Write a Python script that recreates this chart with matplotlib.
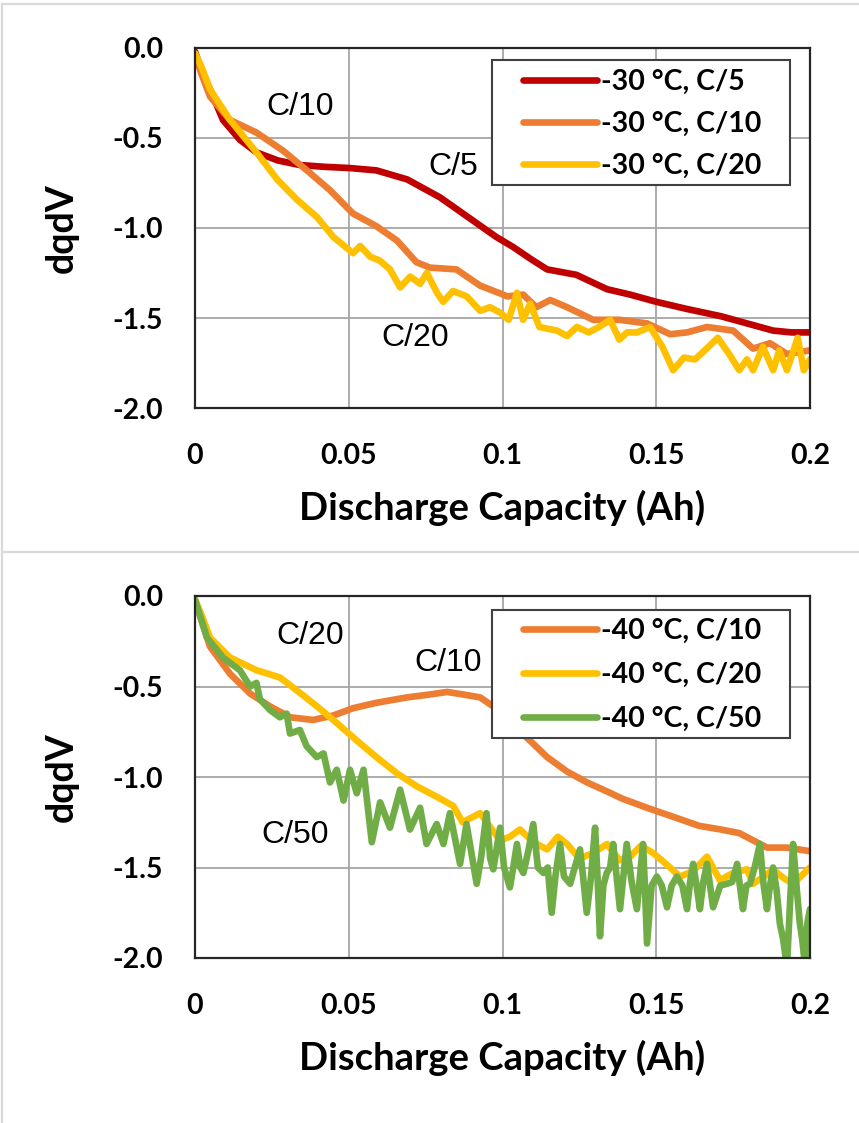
import matplotlib
matplotlib.use("Agg")
import matplotlib.pyplot as plt
from matplotlib.lines import Line2D
from matplotlib.patches import Rectangle

# -30 C panel
x30_c5 = [0, 0.002, 0.0049, 0.0091, 0.0146, 0.020, 0.027, 0.034, 0.042, 0.0504, 0.059, 0.069, 0.0797, 0.0905,
          0.098, 0.1034, 0.109, 0.1145, 0.124, 0.129, 0.134, 0.1415, 0.150, 0.160, 0.171, 0.1795, 0.188, 0.194, 0.2]
y30_c5 = [-0.02, -0.12, -0.23, -0.40, -0.51, -0.58, -0.625, -0.65, -0.66, -0.667, -0.68, -0.73, -0.83, -0.96,
          -1.05, -1.105, -1.17, -1.23, -1.26, -1.30, -1.34, -1.37, -1.41, -1.45, -1.49, -1.53, -1.57, -1.58, -1.58]

x30_c10 = [0, 0.002, 0.0049, 0.0114, 0.020, 0.0286, 0.0364, 0.0439, 0.0514, 0.059, 0.0657, 0.072, 0.0764, 0.085,
           0.0927, 0.1002, 0.1015, 0.1067, 0.111, 0.1155, 0.121, 0.1295, 0.138, 0.147, 0.1545, 0.160, 0.1665,
           0.175, 0.1815, 0.187, 0.1925, 0.2]
y30_c10 = [-0.03, -0.14, -0.27, -0.40, -0.47, -0.57, -0.68, -0.79, -0.92, -0.99, -1.07, -1.19, -1.22, -1.23,
           -1.32, -1.37, -1.38, -1.37, -1.44, -1.40, -1.44, -1.51, -1.51, -1.53, -1.59, -1.58, -1.55,
           -1.57, -1.67, -1.64, -1.70, -1.68]

x30_c20 = [0, 0.002, 0.0049, 0.0114, 0.020, 0.0267, 0.033, 0.0397, 0.045, 0.0514, 0.0537, 0.057, 0.060, 0.0634,
           0.0667, 0.070, 0.0732, 0.0754, 0.0787, 0.0807, 0.0839, 0.0884, 0.0927, 0.0959, 0.0992, 0.102, 0.1047,
           0.1067, 0.109, 0.112, 0.1177, 0.121, 0.1242, 0.128, 0.1314, 0.135, 0.138, 0.1405, 0.1437, 0.148,
           0.152, 0.1555, 0.159, 0.1626, 0.167, 0.170, 0.1737, 0.177, 0.1795, 0.1815, 0.1847, 0.188, 0.190,
           0.1925, 0.196, 0.198, 0.2]
y30_c20 = [-0.03, -0.10, -0.23, -0.40, -0.58, -0.73, -0.84, -0.94, -1.05, -1.14, -1.10, -1.16, -1.18, -1.23,
           -1.33, -1.27, -1.31, -1.25, -1.36, -1.41, -1.35, -1.38, -1.46, -1.44, -1.47, -1.51, -1.36,
           -1.51, -1.42, -1.55, -1.57, -1.60, -1.55, -1.58, -1.55, -1.51, -1.62, -1.58, -1.58, -1.55,
           -1.66, -1.79, -1.72, -1.73, -1.66, -1.61, -1.70, -1.79, -1.73, -1.79, -1.66, -1.79, -1.68,
           -1.79, -1.61, -1.79, -1.73]

# -40 C panel
x40_c10 = [0, 0.002, 0.0049, 0.0114, 0.018, 0.0244, 0.031, 0.0384, 0.045, 0.0514, 0.059, 0.069, 0.076, 0.082,
           0.0875, 0.0927, 0.097, 0.1015, 0.109, 0.1145, 0.121, 0.1275, 0.134, 0.139, 0.147, 0.1555, 0.164,
           0.171, 0.177, 0.186, 0.1925, 0.2]
y40_c10 = [-0.02, -0.13, -0.28, -0.43, -0.54, -0.61, -0.67, -0.685, -0.66, -0.62, -0.59, -0.56, -0.545, -0.53,
           -0.545, -0.56, -0.61, -0.685, -0.80, -0.89, -0.97, -1.03, -1.08, -1.12, -1.17, -1.22, -1.27,
           -1.29, -1.31, -1.39, -1.39, -1.41]

x40_c20 = [0, 0.002, 0.0049, 0.0114, 0.020, 0.0276, 0.033, 0.0397, 0.046, 0.0527, 0.059, 0.0657, 0.072, 0.0787,
           0.084, 0.087, 0.0927, 0.0992, 0.1024, 0.1057, 0.110, 0.1145, 0.118, 0.121, 0.125, 0.1295, 0.134,
           0.138, 0.1415, 0.145, 0.149, 0.1545, 0.1577, 0.162, 0.1665, 0.1707, 0.175, 0.1795, 0.1815, 0.185,
           0.188, 0.1915, 0.1945, 0.2]
y40_c20 = [-0.02, -0.10, -0.23, -0.34, -0.41, -0.45, -0.52, -0.61, -0.70, -0.80, -0.89, -0.98, -1.05, -1.11,
           -1.16, -1.25, -1.20, -1.35, -1.33, -1.29, -1.36, -1.40, -1.33, -1.37, -1.45, -1.42, -1.37,
           -1.46, -1.44, -1.38, -1.42, -1.50, -1.55, -1.52, -1.44, -1.57, -1.53, -1.51, -1.59, -1.55,
           -1.51, -1.56, -1.59, -1.50]

x40_c50 = [0, 0.0039, 0.0091, 0.0146, 0.0179, 0.0200, 0.0211, 0.0244, 0.0276, 0.0298,
           0.0309, 0.0341, 0.0363, 0.0396, 0.0418, 0.0439, 0.0461, 0.0483, 0.0504, 0.0526,
           0.0548, 0.0575, 0.0602, 0.0634, 0.0667, 0.0699, 0.0732, 0.0753, 0.0786, 0.0808,
           0.0829, 0.0862, 0.0883, 0.0916, 0.0930, 0.0948, 0.0960, 0.0970, 0.0992, 0.1005,
           0.1024, 0.1035, 0.1047, 0.1058, 0.1068, 0.1085, 0.1100, 0.1115, 0.1133, 0.1147,
           0.1160, 0.1172, 0.1187, 0.1200, 0.1220, 0.1235, 0.1252, 0.1262, 0.1274, 0.1288,
           0.1301, 0.1309, 0.1317, 0.1328, 0.1339, 0.1350, 0.1360, 0.1371, 0.1382, 0.1393,
           0.1404, 0.1420, 0.1437, 0.1447, 0.1457, 0.1463, 0.1470, 0.1485, 0.1502, 0.1518,
           0.1535, 0.1550, 0.1567, 0.1585, 0.1600, 0.1610, 0.1620, 0.1631, 0.1642, 0.1653,
           0.1665, 0.1675, 0.1685, 0.1708, 0.1730, 0.1747, 0.1763, 0.1772, 0.1782, 0.1793,
           0.1805, 0.1820, 0.1837, 0.1848, 0.1860, 0.1870, 0.1880, 0.1891, 0.1902, 0.1913,
           0.1925, 0.1935, 0.1945, 0.1956, 0.1967, 0.1975, 0.1984, 0.1992, 0.2]
y40_c50 = [-0.02, -0.23, -0.34, -0.41, -0.50, -0.48, -0.57, -0.63, -0.67, -0.65,
           -0.76, -0.74, -0.83, -0.89, -0.87, -1.03, -0.96, -1.13, -0.96, -1.09,
           -0.96, -1.36, -1.14, -1.28, -1.07, -1.29, -1.17, -1.37, -1.26, -1.37,
           -1.20, -1.48, -1.26, -1.59, -1.45, -1.20, -1.45, -1.51, -1.28, -1.50,
           -1.61, -1.50, -1.37, -1.50, -1.53, -1.40, -1.26, -1.50, -1.53, -1.50,
           -1.75, -1.55, -1.37, -1.55, -1.59, -1.50, -1.40, -1.55, -1.75, -1.55,
           -1.28, -1.55, -1.88, -1.60, -1.53, -1.50, -1.37, -1.55, -1.73, -1.55,
           -1.37, -1.58, -1.73, -1.55, -1.37, -1.60, -1.92, -1.60, -1.55, -1.60,
           -1.72, -1.60, -1.55, -1.60, -1.73, -1.58, -1.48, -1.60, -1.73, -1.58,
           -1.48, -1.60, -1.72, -1.60, -1.59, -1.58, -1.48, -1.60, -1.73, -1.60,
           -1.59, -1.50, -1.37, -1.58, -1.73, -1.60, -1.50, -1.62, -1.81, -1.90,
           -2.05, -1.70, -1.37, -1.60, -1.81, -1.90, -2.05, -1.80, -1.73]

x_ticks = [0, 0.05, 0.1, 0.15, 0.2]
x_ticklabels = ['0', '0.05', '0.1', '0.15', '0.2']
y_ticks = [0.0, -0.5, -1.0, -1.5, -2.0]
y_ticklabels = ['0.0', '-0.5', '-1.0', '-1.5', '-2.0']

RED = '#C00000'
ORANGE = '#ED7D31'
YELLOW = '#FFC000'
GREEN = '#70AD47'

BOLD = ['Lato', 'DejaVu Sans']
PLAIN = ['Liberation Sans', 'DejaVu Sans']

fig = plt.figure(figsize=(8.59, 11.23), dpi=100)

# light gray chart frames
for y in [1 - 4 / 1123, 1 - 552 / 1123]:
    fig.add_artist(Line2D([2 / 859, 1], [y, y], color='#d9d9d9', lw=1.6, transform=fig.transFigure))
fig.add_artist(Line2D([2 / 859, 2 / 859], [0, 1 - 4 / 1123], color='#d9d9d9', lw=1.6, transform=fig.transFigure))


def setup(ax):
    ax.set_xlim(0, 0.2)
    ax.set_ylim(-2.0, 0.0)
    ax.set_xticks(x_ticks)
    ax.set_xticklabels(x_ticklabels)
    ax.set_yticks(y_ticks)
    ax.set_yticklabels(y_ticklabels)
    ax.grid(True, color='#a6a6a6', lw=1.3)
    ax.set_axisbelow(True)
    for s in ax.spines.values():
        s.set_color('#262626')
        s.set_linewidth(1.6)
    ax.tick_params(length=0, pad=23)
    ax.tick_params(axis='x', pad=25)
    for lab in ax.get_xticklabels() + ax.get_yticklabels():
        lab.set_fontfamily(BOLD)
        lab.set_fontweight('bold')
        lab.set_fontsize(20.5)
    ax.set_xlabel('Discharge Capacity (Ah)', family=BOLD, fontweight='bold', fontsize=27.5, labelpad=15)
    ax.set_ylabel('dqdV', family=BOLD, fontweight='bold', fontsize=27, labelpad=24)


lw = 4.8

ax1 = fig.add_axes([195 / 859, 1 - 408 / 1123, 615 / 859, 360 / 1123])
setup(ax1)
ax1.plot(x30_c5, y30_c5, color=RED, lw=lw, label='-30 °C, C/5', solid_capstyle='round')
ax1.plot(x30_c10, y30_c10, color=ORANGE, lw=lw, label='-30 °C, C/10', solid_capstyle='round')
ax1.plot(x30_c20, y30_c20, color=YELLOW, lw=lw, label='-30 °C, C/20', solid_capstyle='round')
ax1.text(0.0341, -0.33, 'C/10', family=PLAIN, fontsize=23, ha='center', va='center')
ax1.text(0.0839, -0.66, 'C/5', family=PLAIN, fontsize=23, ha='center', va='center')
ax1.text(0.0715, -1.61, 'C/20', family=PLAIN, fontsize=23, ha='center', va='center')

ax2 = fig.add_axes([195 / 859, 1 - 958 / 1123, 615 / 859, 362 / 1123])
setup(ax2)
ax2.plot(x40_c10, y40_c10, color=ORANGE, lw=lw, label='-40 °C, C/10', solid_capstyle='round')
ax2.plot(x40_c20, y40_c20, color=YELLOW, lw=lw, label='-40 °C, C/20', solid_capstyle='round')
ax2.plot(x40_c50, y40_c50, color=GREEN, lw=lw, label='-40 °C, C/50', solid_capstyle='round')
ax2.text(0.0374, -0.22, 'C/20', family=PLAIN, fontsize=23, ha='center', va='center')
ax2.text(0.0823, -0.37, 'C/10', family=PLAIN, fontsize=23, ha='center', va='center')
ax2.text(0.0325, -1.32, 'C/50', family=PLAIN, fontsize=23, ha='center', va='center')

# legend boxes drawn separately so the padding matches the original
for ax, box, mid, spacing in [(ax1, (0.4829, 0.6194, 0.4846, 0.3472), 0.789, 0.55),
                              (ax2, (0.4829, 0.6077, 0.4846, 0.3536), 0.782, 0.64)]:
    ax.add_patch(Rectangle(box[:2], box[2], box[3], transform=ax.transAxes, facecolor='white',
                           edgecolor='#404040', lw=1.5, zorder=4.5, clip_on=False))
    leg = ax.legend(loc='center left', bbox_to_anchor=(0.533, mid), borderaxespad=0, borderpad=0,
                    frameon=False, handlelength=2.6, handletextpad=0.15, labelspacing=spacing,
                    prop={'family': BOLD, 'weight': 'bold', 'size': 20.5})
    leg.set_zorder(5)

fig.savefig('out.png', dpi=100)
